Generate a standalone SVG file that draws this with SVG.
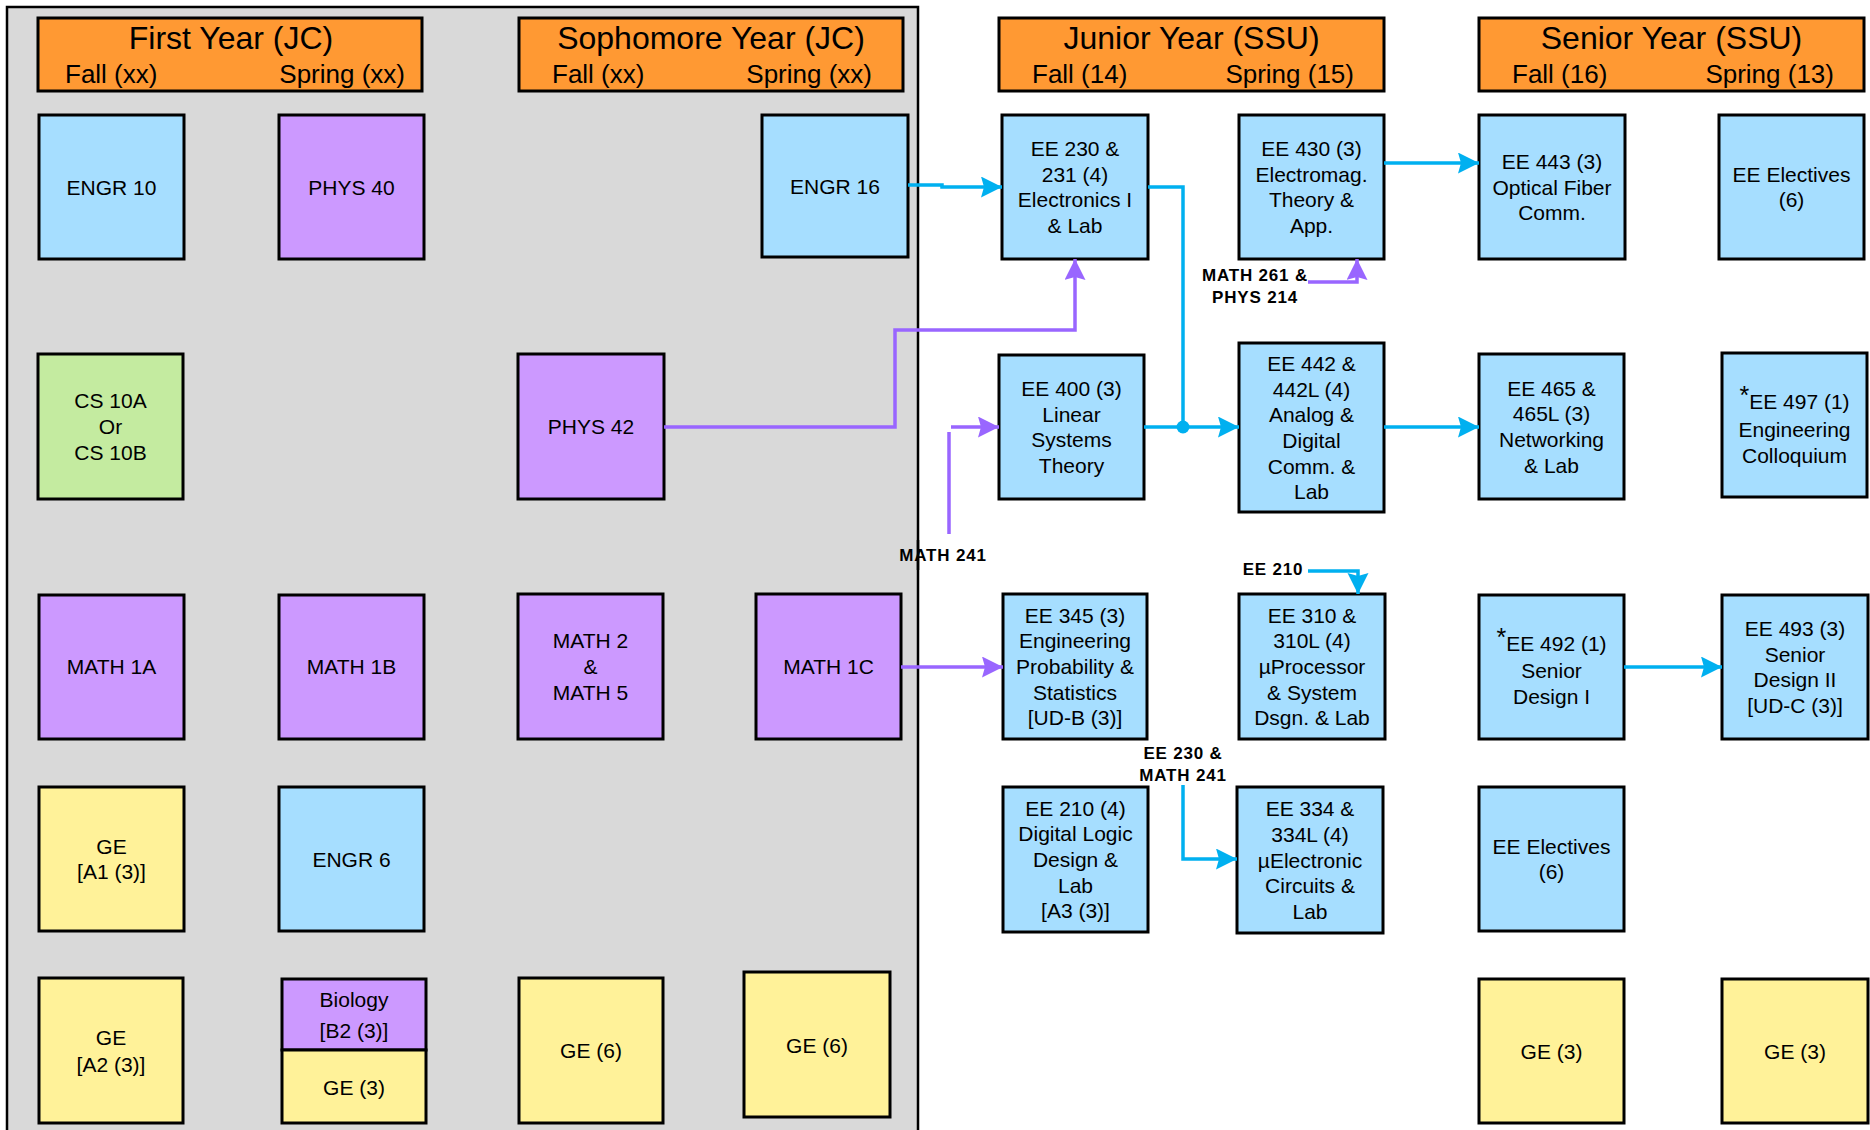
<svg xmlns="http://www.w3.org/2000/svg" width="1870" height="1130" viewBox="0 0 1870 1130">
<style>
.bx{stroke:#000;stroke-width:3}
.bl{fill:#A6DEFF}
.pu{fill:#CC99FF}
.gr{fill:#C4EBA0}
.ye{fill:#FFF299}
.hd{fill:#FF9933;stroke:#000;stroke-width:3}
text{font-family:"Liberation Sans",Arial,sans-serif;fill:#000}
.t{font-size:21px;text-anchor:middle}
.h1{font-size:32px;text-anchor:middle}
.h2{font-size:26px}
.lb{font-size:17px;font-weight:bold;text-anchor:middle;letter-spacing:0.8px}
.cb{fill:none;stroke:#00B0F0;stroke-width:3.5}
.cp{fill:none;stroke:#9966FF;stroke-width:3.5}
</style>
<defs>
<marker id="ab" markerUnits="userSpaceOnUse" markerWidth="22" markerHeight="22" refX="21" refY="10.5" orient="auto"><path d="M0,0 L21,10.5 L0,21 L3,10.5 Z" fill="#00B0F0"/></marker>
<marker id="ap" markerUnits="userSpaceOnUse" markerWidth="22" markerHeight="22" refX="21" refY="10.5" orient="auto"><path d="M0,0 L21,10.5 L0,21 L3,10.5 Z" fill="#9966FF"/></marker>
</defs>
<rect x="0" y="0" width="1870" height="1130" fill="#fff"/>
<rect id="jc-panel" x="7" y="7" width="911" height="1140" fill="#D9D9D9" stroke="#000" stroke-width="2.5"/>

<g id="hdr-first"><rect class="hd" x="38" y="18" width="384" height="73"/><text class="h1" x="231" y="49">First Year (JC)</text><text class="h2" x="65" y="83">Fall (xx)</text><text class="h2" x="405" y="83" text-anchor="end">Spring (xx)</text></g>
<g id="hdr-soph"><rect class="hd" x="519" y="18" width="384" height="73"/><text class="h1" x="711" y="49">Sophomore Year (JC)</text><text class="h2" x="552" y="83">Fall (xx)</text><text class="h2" x="872" y="83" text-anchor="end">Spring (xx)</text></g>
<g id="hdr-junior"><rect class="hd" x="999" y="18" width="385" height="73"/><text class="h1" x="1191.5" y="49">Junior Year (SSU)</text><text class="h2" x="1032" y="83">Fall (14)</text><text class="h2" x="1354" y="83" text-anchor="end">Spring (15)</text></g>
<g id="hdr-senior"><rect class="hd" x="1479" y="18" width="385" height="73"/><text class="h1" x="1671.5" y="49">Senior Year (SSU)</text><text class="h2" x="1512" y="83">Fall (16)</text><text class="h2" x="1834" y="83" text-anchor="end">Spring (13)</text></g>

<g id="engr10"><rect class="bx bl" x="39" y="115" width="145" height="144"/><text class="t" x="111.5" y="194.5">ENGR 10</text></g>
<g id="phys40"><rect class="bx pu" x="279" y="115" width="145" height="144"/><text class="t" x="351.5" y="194.5">PHYS 40</text></g>
<g id="engr16"><rect class="bx bl" x="762" y="115" width="146" height="142"/><text class="t" x="835" y="193.5">ENGR 16</text></g>
<g id="cs10"><rect class="bx gr" x="38" y="354" width="145" height="145"/><text class="t" x="110.5" y="408.3">CS 10A</text><text class="t" x="110.5" y="434">Or</text><text class="t" x="110.5" y="459.7">CS 10B</text></g>
<g id="phys42"><rect class="bx pu" x="518" y="354" width="146" height="145"/><text class="t" x="591" y="434">PHYS 42</text></g>
<g id="math1a"><rect class="bx pu" x="39" y="595" width="145" height="144"/><text class="t" x="111.5" y="674">MATH 1A</text></g>
<g id="math1b"><rect class="bx pu" x="279" y="595" width="145" height="144"/><text class="t" x="351.5" y="674">MATH 1B</text></g>
<g id="math2"><rect class="bx pu" x="518" y="594" width="145" height="145"/><text class="t" x="590.5" y="648.3">MATH 2</text><text class="t" x="590.5" y="674">&amp;</text><text class="t" x="590.5" y="699.7">MATH 5</text></g>
<g id="math1c"><rect class="bx pu" x="756" y="594" width="145" height="145"/><text class="t" x="828.5" y="674">MATH 1C</text></g>
<g id="ge-a1"><rect class="bx ye" x="39" y="787" width="145" height="144"/><text class="t" x="111.5" y="853.6">GE</text><text class="t" x="111.5" y="879.4">[A1 (3)]</text></g>
<g id="engr6"><rect class="bx bl" x="279" y="787" width="145" height="144"/><text class="t" x="351.5" y="866.5">ENGR 6</text></g>
<g id="ge-a2"><rect class="bx ye" x="39" y="978" width="144" height="145"/><text class="t" x="111" y="1045">GE</text><text class="t" x="111" y="1072">[A2 (3)]</text></g>
<g id="biology"><rect class="bx pu" x="282" y="979" width="144" height="71"/><text class="t" x="354" y="1007">Biology</text><text class="t" x="354" y="1038">[B2 (3)]</text></g>
<g id="ge3-first"><rect class="bx ye" x="282" y="1050" width="144" height="73"/><text class="t" x="354" y="1095">GE (3)</text></g>
<g id="ge6-a"><rect class="bx ye" x="519" y="978" width="144" height="145"/><text class="t" x="591" y="1058">GE (6)</text></g>
<g id="ge6-b"><rect class="bx ye" x="744" y="972" width="146" height="145"/><text class="t" x="817" y="1053">GE (6)</text></g>

<g id="ee230"><rect class="bx bl" x="1002" y="115" width="146" height="144"/><text class="t" x="1075" y="156">EE 230 &amp;</text><text class="t" x="1075" y="181.7">231 (4)</text><text class="t" x="1075" y="207.4">Electronics I</text><text class="t" x="1075" y="233.1">&amp; Lab</text></g>
<g id="ee430"><rect class="bx bl" x="1239" y="115" width="145" height="144"/><text class="t" x="1311.5" y="156">EE 430 (3)</text><text class="t" x="1311.5" y="181.7">Electromag.</text><text class="t" x="1311.5" y="207.4">Theory &amp;</text><text class="t" x="1311.5" y="233.1">App.</text></g>
<g id="ee400"><rect class="bx bl" x="999" y="355" width="145" height="144"/><text class="t" x="1071.5" y="396">EE 400 (3)</text><text class="t" x="1071.5" y="421.7">Linear</text><text class="t" x="1071.5" y="447.4">Systems</text><text class="t" x="1071.5" y="473.1">Theory</text></g>
<g id="ee442"><rect class="bx bl" x="1239" y="343" width="145" height="169"/><text class="t" x="1311.5" y="370.8">EE 442 &amp;</text><text class="t" x="1311.5" y="396.5">442L (4)</text><text class="t" x="1311.5" y="422.2">Analog &amp;</text><text class="t" x="1311.5" y="447.9">Digital</text><text class="t" x="1311.5" y="473.6">Comm. &amp;</text><text class="t" x="1311.5" y="499.3">Lab</text></g>
<g id="ee345"><rect class="bx bl" x="1003" y="594" width="144" height="145"/><text class="t" x="1075" y="622.6">EE 345 (3)</text><text class="t" x="1075" y="648.3">Engineering</text><text class="t" x="1075" y="674">Probability &amp;</text><text class="t" x="1075" y="699.7">Statistics</text><text class="t" x="1075" y="725.4">[UD-B (3)]</text></g>
<g id="ee310"><rect class="bx bl" x="1239" y="594" width="146" height="145"/><text class="t" x="1312" y="622.6">EE 310 &amp;</text><text class="t" x="1312" y="648.3">310L (4)</text><text class="t" x="1312" y="674">µProcessor</text><text class="t" x="1312" y="699.7">&amp; System</text><text class="t" x="1312" y="725.4">Dsgn. &amp; Lab</text></g>
<g id="ee210"><rect class="bx bl" x="1003" y="787" width="145" height="145"/><text class="t" x="1075.5" y="815.6">EE 210 (4)</text><text class="t" x="1075.5" y="841.3">Digital Logic</text><text class="t" x="1075.5" y="867">Design &amp;</text><text class="t" x="1075.5" y="892.7">Lab</text><text class="t" x="1075.5" y="918.4">[A3 (3)]</text></g>
<g id="ee334"><rect class="bx bl" x="1237" y="787" width="146" height="146"/><text class="t" x="1310" y="816.1">EE 334 &amp;</text><text class="t" x="1310" y="841.8">334L (4)</text><text class="t" x="1310" y="867.5">µElectronic</text><text class="t" x="1310" y="893.2">Circuits &amp;</text><text class="t" x="1310" y="918.9">Lab</text></g>

<g id="ee443"><rect class="bx bl" x="1479" y="115" width="146" height="144"/><text class="t" x="1552" y="168.8">EE 443 (3)</text><text class="t" x="1552" y="194.5">Optical Fiber</text><text class="t" x="1552" y="220.2">Comm.</text></g>
<g id="elect-spring"><rect class="bx bl" x="1719" y="115" width="145" height="144"/><text class="t" x="1791.5" y="181.6">EE Electives</text><text class="t" x="1791.5" y="207.4">(6)</text></g>
<g id="ee465"><rect class="bx bl" x="1479" y="354" width="145" height="145"/><text class="t" x="1551.5" y="395.5">EE 465 &amp;</text><text class="t" x="1551.5" y="421.2">465L (3)</text><text class="t" x="1551.5" y="446.9">Networking</text><text class="t" x="1551.5" y="472.6">&amp; Lab</text></g>
<g id="ee497"><rect class="bx bl" x="1722" y="353" width="145" height="144"/><text class="t" x="1794.5" y="409"><tspan font-size="25" dy="-5">*</tspan><tspan dy="5">EE 497 (1)</tspan></text><text class="t" x="1794.5" y="437">Engineering</text><text class="t" x="1794.5" y="463">Colloquium</text></g>
<g id="ee492"><rect class="bx bl" x="1479" y="595" width="145" height="144"/><text class="t" x="1551.5" y="651"><tspan font-size="25" dy="-5">*</tspan><tspan dy="5">EE 492 (1)</tspan></text><text class="t" x="1551.5" y="678">Senior</text><text class="t" x="1551.5" y="704">Design I</text></g>
<g id="ee493"><rect class="bx bl" x="1722" y="595" width="146" height="144"/><text class="t" x="1795" y="635.95">EE 493 (3)</text><text class="t" x="1795" y="661.65">Senior</text><text class="t" x="1795" y="687.35">Design II</text><text class="t" x="1795" y="713.05">[UD-C (3)]</text></g>
<g id="elect-fall"><rect class="bx bl" x="1479" y="787" width="145" height="144"/><text class="t" x="1551.5" y="853.6">EE Electives</text><text class="t" x="1551.5" y="879.4">(6)</text></g>
<g id="ge3-fall"><rect class="bx ye" x="1479" y="979" width="145" height="144"/><text class="t" x="1551.5" y="1058.5">GE (3)</text></g>
<g id="ge3-spring"><rect class="bx ye" x="1722" y="979" width="146" height="144"/><text class="t" x="1795" y="1058.5">GE (3)</text></g>

<g id="connectors">
<path class="cb" d="M908,185 H942 V187 H1002" marker-end="url(#ab)"/>
<path class="cb" d="M1148,187 H1183 V427"/>
<path class="cb" d="M1144,427 H1239" marker-end="url(#ab)"/>
<circle cx="1183" cy="427" r="6.5" fill="#00B0F0"/>
<path class="cb" d="M1384,163 H1479" marker-end="url(#ab)"/>
<path class="cb" d="M1384,427 H1479" marker-end="url(#ab)"/>
<path class="cb" d="M1624,667 H1722" marker-end="url(#ab)"/>
<path class="cp" d="M664,427 H895 V330 H1075 V259" marker-end="url(#ap)"/>
<path class="cp" d="M949,534 V432 M951,427 H999" marker-end="url(#ap)"/>
<path class="cp" d="M901,667 H1003" marker-end="url(#ap)"/>
<path class="cp" d="M1308,282 H1357 V259" marker-end="url(#ap)"/>
<path class="cb" d="M1308,571 H1358 V594" marker-end="url(#ab)"/>
<path class="cb" d="M1183,785 V859 H1237" marker-end="url(#ab)"/>
</g>

<g id="labels">
<text class="lb" x="1255" y="281">MATH 261 &amp;</text>
<text class="lb" x="1255" y="303">PHYS 214</text>
<text class="lb" x="943" y="561">MATH 241</text>
<text class="lb" x="1273" y="575">EE 210</text>
<text class="lb" x="1183" y="759">EE 230 &amp;</text>
<text class="lb" x="1183" y="781">MATH 241</text>
</g>
<line x1="918" y1="540" x2="918" y2="570" stroke="#000" stroke-width="2.5"/>
</svg>
